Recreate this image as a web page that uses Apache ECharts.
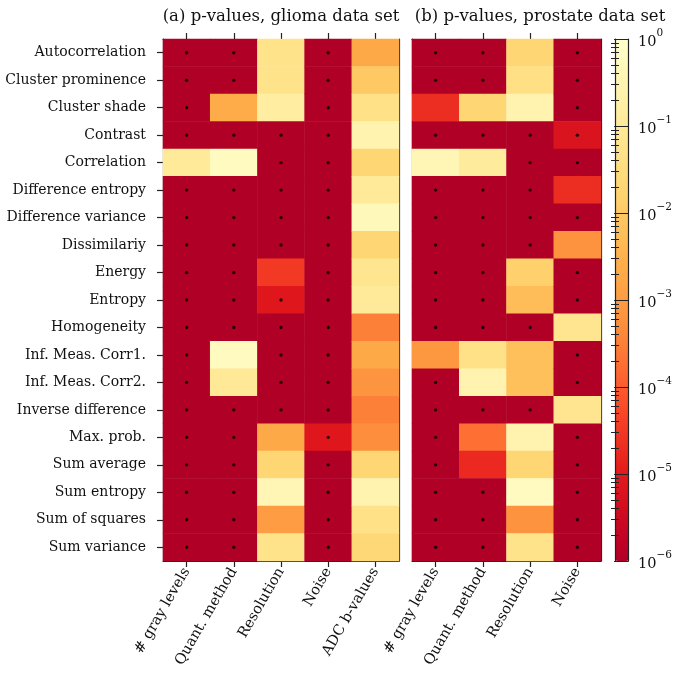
<!DOCTYPE html>
<html><head><meta charset="utf-8">
<script src="https://cdn.jsdelivr.net/npm/echarts@6/dist/echarts.min.js"></script>
<style>html,body{margin:0;padding:0;background:#fff}#c{width:675px;height:679px}</style>
</head><body><div id="c"></div>
<script>
// Feature rows (top to bottom)
const features = ['Autocorrelation','Cluster prominence','Cluster shade','Contrast','Correlation',
  'Difference entropy','Difference variance','Dissimilariy','Energy','Entropy','Homogeneity',
  'Inf. Meas. Corr1.','Inf. Meas. Corr2.','Inverse difference','Max. prob.','Sum average',
  'Sum entropy','Sum of squares','Sum variance'];
const gliomaCols = ['# gray levels','Quant. method','Resolution','Noise','ADC b-values'];
const prostateCols = ['# gray levels','Quant. method','Resolution','Noise'];

// log10(p-value) per feature row (-6 = 1e-6 or smaller)
const gliomaGray  = [-6,-6,-6,-6,-0.97,-6,-6,-6,-6,-6,-6,-6,-6,-6,-6,-6,-6,-6,-6];
const gliomaQuant = [-6,-6,-2.66,-6,-0.23,-6,-6,-6,-6,-6,-6,-0.23,-1.04,-6,-6,-6,-6,-6,-6];
const gliomaRes   = [-1.25,-1.25,-0.8,-6,-6,-6,-6,-6,-4.5,-5.1,-6,-6,-6,-6,-2.7,-1.7,-0.46,-3.0,-1.25];
const gliomaNoise = [-6,-6,-6,-6,-6,-6,-6,-6,-6,-6,-6,-6,-6,-6,-5.1,-6,-6,-6,-6];
const gliomaADC   = [-2.7,-2.0,-1.3,-0.55,-1.73,-0.95,-0.33,-1.73,-1.17,-0.95,-3.5,-2.7,-3.15,-3.5,-3.3,-1.7,-0.55,-1.3,-1.67];

const prostateGray  = [-6,-6,-4.7,-6,-0.46,-6,-6,-6,-6,-6,-6,-3.1,-6,-6,-6,-6,-6,-6,-6];
const prostateQuant = [-6,-6,-1.73,-6,-0.92,-6,-6,-6,-6,-6,-6,-1.3,-0.55,-6,-3.73,-4.76,-6,-6,-6];
const prostateRes   = [-1.73,-1.37,-0.55,-6,-6,-6,-6,-6,-1.84,-2.27,-6,-2.2,-2.2,-6,-0.55,-1.7,-0.23,-3.2,-1.25];
const prostateNoise = [-6,-6,-6,-5.2,-6,-4.7,-6,-3.2,-6,-6,-1.17,-6,-6,-1.17,-6,-6,-6,-6,-6];

// significance marker threshold (log10 p)
const sigThreshold = -5;
// colour bar decades
const cbarDecades = [-6,-5,-4,-3,-2,-1,0];

const gliomaColsData = [gliomaGray, gliomaQuant, gliomaRes, gliomaNoise, gliomaADC];
const prostateColsData = [prostateGray, prostateQuant, prostateRes, prostateNoise];

function toCells(cols){ const out=[]; cols.forEach((arr,ci)=>arr.forEach((v,ri)=>out.push([ci,ri,v]))); return out; }
function toDots(cols){ const out=[]; cols.forEach((arr,ci)=>arr.forEach((v,ri)=>{ if(v<sigThreshold) out.push([ci,ri]); })); return out; }

// YlOrRd colormap (style), used over [0,0.9] reversed
const ylorrd = ['#ffffcc','#ffeda0','#fed976','#feb24c','#fd8d3c','#fc4e2a','#e31a1c','#bd0026','#800026'];
function hex(c){return [parseInt(c.slice(1,3),16),parseInt(c.slice(3,5),16),parseInt(c.slice(5,7),16)];}
function cmap(t){ const p=t*8, i=Math.min(7,Math.floor(p)), f=p-i; const a=hex(ylorrd[i]), b=hex(ylorrd[i+1]);
  return 'rgb('+a.map((x,k)=>Math.round(x+(b[k]-x)*f)).join(',')+')'; }
const cbarColors=[]; for(let k=0;k<=24;k++){ const v=-6+6*k/24; cbarColors.push(cmap(0.9*(-v/6))); }

const minorTicks=[]; cbarDecades.slice(0,-1).forEach(d=>{ for(let k=2;k<=9;k++) minorTicks.push(d+Math.log10(k)); });

const FONT='DejaVu Serif';
const lineStyle={color:'#222',width:1.2};
const catX=(gi,data,pos,showLabel)=>({type:'category',gridIndex:gi,data:data,position:pos,
  axisLine:{show:true,onZero:false,lineStyle:lineStyle},
  axisTick:{show:true,alignWithLabel:true,length:6,lineStyle:lineStyle},
  axisLabel:{show:showLabel,rotate:60,margin:8,fontFamily:FONT,fontSize:14.5,color:'#111'},
  splitLine:{show:false}});
const catY=(gi,pos,showTick,showLabel)=>({type:'category',gridIndex:gi,data:features,inverse:true,position:pos,
  axisLine:{show:true,onZero:false,lineStyle:lineStyle},
  axisTick:{show:showTick,alignWithLabel:true,length:6,lineStyle:lineStyle},
  axisLabel:{show:showLabel,margin:17,fontFamily:FONT,fontSize:14,color:'#111'},
  splitLine:{show:false}});

const chart=echarts.init(document.getElementById('c'));
chart.setOption({
  animation:false,
  title:[
    {text:'(a) p-values, glioma data set',left:276,top:3,textAlign:'center',
     textStyle:{fontFamily:FONT,fontSize:16.5,fontWeight:'normal',color:'#111'}},
    {text:'(b) p-values, prostate data set',left:535,top:3,textAlign:'center',
     textStyle:{fontFamily:FONT,fontSize:16.5,fontWeight:'normal',color:'#111'}}
  ],
  grid:[
    {left:163,top:39,width:236,height:522},
    {left:412,top:39,width:189,height:522},
    {left:615,top:39,width:14,height:522}
  ],
  xAxis:[
    catX(0,gliomaCols,'bottom',true),
    catX(0,gliomaCols,'top',false),
    catX(1,prostateCols,'bottom',true),
    catX(1,prostateCols,'top',false),
    {type:'value',gridIndex:2,position:'bottom',min:0,max:1,z:10,axisLine:{show:true,onZero:false,lineStyle:lineStyle},axisTick:{show:false},axisLabel:{show:false},splitLine:{show:false}},
    {type:'value',gridIndex:2,position:'top',min:0,max:1,z:10,axisLine:{show:true,onZero:false,lineStyle:lineStyle},axisTick:{show:false},axisLabel:{show:false},splitLine:{show:false}}
  ],
  yAxis:[
    catY(0,'left',true,true),
    catY(0,'right',false,false),
    catY(1,'left',false,false),
    catY(1,'right',false,false),
    {type:'value',gridIndex:2,position:'right',min:-6,max:0,interval:1,z:10,
      axisLine:{show:true,onZero:false,lineStyle:lineStyle},
      axisTick:{show:true,inside:true,length:14,lineStyle:{color:'#222',width:1}},
      splitLine:{show:false},
      axisLabel:{show:true,margin:10,color:'#111',
        formatter:v=>'{b|10}{s|'+(v===0?'0':'\u2212'+(-v))+'}',
        rich:{b:{fontFamily:FONT,fontSize:14.5,lineHeight:22,verticalAlign:'bottom',color:'#111'},
              s:{fontFamily:FONT,fontSize:10.5,lineHeight:12,verticalAlign:'top',color:'#111'}}}},
    {type:'value',gridIndex:2,position:'right',min:-6,max:0,z:10,
      axisLine:{show:false},axisLabel:{show:false},splitLine:{show:false},
      axisTick:{show:true,inside:true,length:4,customValues:minorTicks,lineStyle:{color:'#222',width:1}}},
    {type:'value',gridIndex:2,position:'left',min:-6,max:0,z:10,
      axisLine:{show:true,onZero:false,lineStyle:lineStyle},axisLabel:{show:false},splitLine:{show:false},
      axisTick:{show:true,inside:true,length:4,customValues:minorTicks,lineStyle:{color:'#222',width:1}}}
  ],
  visualMap:{type:'continuous',min:-6,max:0,seriesIndex:[0,1],dimension:2,z:0,
    inRange:{color:cbarColors},orient:'vertical',left:615,top:39,itemWidth:14,itemHeight:522,
    calculable:false,padding:0,hoverLink:false,text:null,show:true},
  series:[
    {type:'heatmap',xAxisIndex:0,yAxisIndex:0,data:toCells(gliomaColsData),emphasis:{disabled:true},itemStyle:{borderWidth:0}},
    {type:'heatmap',xAxisIndex:2,yAxisIndex:2,data:toCells(prostateColsData),emphasis:{disabled:true},itemStyle:{borderWidth:0}},
    {type:'scatter',xAxisIndex:0,yAxisIndex:0,data:toDots(gliomaColsData),symbol:'circle',symbolSize:3.4,itemStyle:{color:'#000'},silent:true,z:5},
    {type:'scatter',xAxisIndex:2,yAxisIndex:2,data:toDots(prostateColsData),symbol:'circle',symbolSize:3.4,itemStyle:{color:'#000'},silent:true,z:5}
  ]
});
</script></body></html>
